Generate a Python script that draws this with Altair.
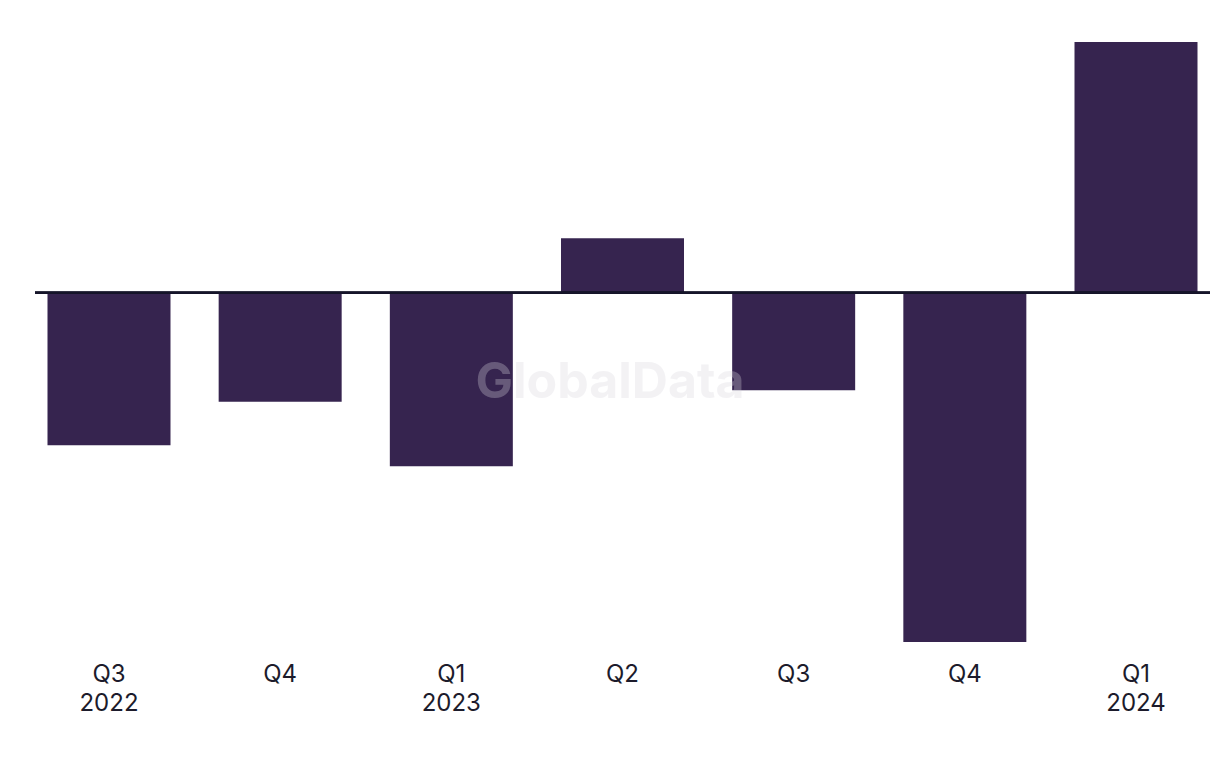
import json
import altair as alt
import pandas as pd

# Data (relative units; no value axis is shown)
periods = ["2022-Q3", "2022-Q4", "2023-Q1", "2023-Q2", "2023-Q3", "2023-Q4", "2024-Q1"]
tick_labels = ["Q3\n2022", "Q4", "Q1\n2023", "Q2", "Q3", "Q4", "Q1\n2024"]
values = [-15.25, -10.9, -17.35, 5.45, -9.75, -34.9, 25.05]

df = pd.DataFrame({"period": periods, "value": values})

W, H = 1175, 600
BAR = "#36244f"
TEXT = "#1c1b2b"

label_map = json.dumps(dict(zip(periods, tick_labels)))
label_expr = "split(" + label_map + "[datum.value], '\\n')"

x_enc = alt.X(
    "period:N",
    sort=periods,
    scale=alt.Scale(paddingInner=0.2814, paddingOuter=0.073),
    axis=alt.Axis(
        title=None, domain=False, ticks=False, labelAngle=0,
        labelExpr=label_expr, labelFont="Inter", labelFontSize=24,
        labelColor=TEXT, labelPadding=20, labelLineHeight=29,
    ),
)
y_scale = alt.Scale(domain=[min(values), max(values)], nice=False, zero=True)

bars = alt.Chart(df).mark_bar(color=BAR).encode(
    x=x_enc,
    y=alt.Y("value:Q", scale=y_scale, axis=None),
)

zero = alt.Chart(df).mark_rule(color="#16152a", strokeWidth=2).encode(
    y=alt.datum(0, scale=y_scale),
    x=alt.value(0),
    x2=alt.value(W),
)

watermark = alt.Chart(pd.DataFrame({"t": ["GlobalData"]})).mark_text(
    font="Inter", fontSize=50, fontWeight="bold", color="#d8d6de",
    opacity=0.3, align="center", baseline="middle",
).encode(text="t:N", x=alt.value(575), y=alt.value(341))

chart = alt.layer(bars, zero, watermark).properties(
    width=W, height=H,
    autosize=alt.AutoSizeParams(type="none"),
    padding={"left": 35, "top": 42, "right": 10, "bottom": 126},
).configure(background="white").configure_view(stroke=None, strokeWidth=0)

chart.save("out.html", embed_options={"renderer": "svg", "actions": False})
